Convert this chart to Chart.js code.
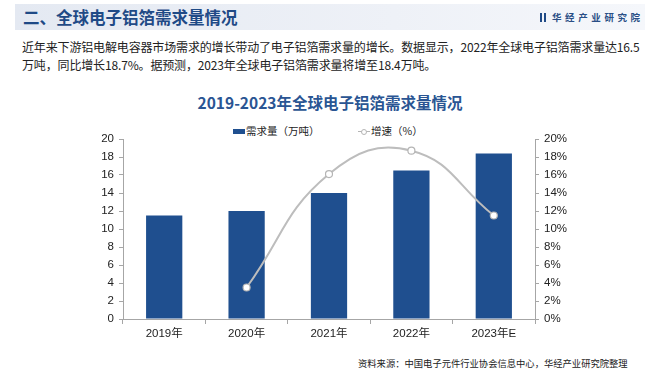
<!DOCTYPE html>
<html>
<head>
<meta charset="utf-8">
<script src="https://cdn.jsdelivr.net/npm/chart.js@4"></script>
<style>
  html, body { margin:0; padding:0; background:#fff; }
  body { width:660px; height:375px; position:relative; overflow:hidden;
         font-family:"Liberation Sans","Noto Sans CJK SC",sans-serif; }
  .hdr { position:absolute; left:15px; top:4px; width:630px; height:26px;
         background:linear-gradient(90deg,#e4e9f2 0%,#eef1f7 60%,#f5f7fb 100%); }
  .hdr-title { position:absolute; left:23px; top:5px; font-family:"Noto Sans CJK SC"; font-weight:bold;
         font-size:16.5px; line-height:24px; color:#1f4a86; }
  .logo { position:absolute; left:540px; top:10px; font-family:"Noto Sans CJK SC"; font-weight:bold;
         font-size:9.5px; line-height:14px; color:#2a4f86; letter-spacing:3.6px; }
  .logo i { display:inline-block; width:6px; height:9px; border-left:2.5px solid #1f4a86; border-right:2.5px solid #1f4a86;
         box-sizing:border-box; margin-right:6px; vertical-align:-1px; }
  .para { position:absolute; left:22px; top:38px; width:630px; font-family:"Noto Sans CJK SC";
         font-size:12px; line-height:18px; color:#222; letter-spacing:-0.15px; }
  .ctitle { position:absolute; left:0; width:660px; top:91px; text-align:center; font-family:"Noto Sans CJK SC";
         font-weight:bold; font-size:15.5px; line-height:22px; color:#2a5593; }
  .legend { position:absolute; top:123px; left:0; width:660px; height:16px; font-size:10.5px; color:#222;
         font-family:"Noto Sans CJK SC"; }
  .lg1 { position:absolute; left:233px; top:0; line-height:16px; }
  .lg1 b { display:inline-block; width:12px; height:5px; background:#1f4f8f; vertical-align:1px; margin-right:1px; }
  .lg2 { position:absolute; left:358px; top:0; line-height:16px; }
  .lg2 b { display:inline-block; position:relative; width:12px; height:1px; background:#b5b5b5; vertical-align:3px; margin-right:1px; }
  .lg2 b::after { content:""; position:absolute; left:3px; top:-2.5px; width:4px; height:4px; border-radius:50%;
         background:#fff; border:1px solid #b5b5b5; }
  .src { position:absolute; left:358px; top:356px; font-family:"Noto Sans CJK SC"; font-size:9.3px; line-height:14px; color:#222; }
  #wrap { position:absolute; left:0; top:120px; width:660px; height:225px; }
</style>
</head>
<body>
<div class="hdr"></div>
<div class="hdr-title">二、全球电子铝箔需求量情况</div>
<div class="logo"><i></i>华经产业研究院</div>
<div class="para">近年来下游铝电解电容器市场需求的增长带动了电子铝箔需求量的增长。数据显示，2022年全球电子铝箔需求量达16.5<br>万吨，同比增长18.7%。据预测，2023年全球电子铝箔需求量将增至18.4万吨。</div>
<div class="ctitle">2019-2023年全球电子铝箔需求量情况</div>
<div class="legend">
  <span class="lg1"><b></b>需求量（万吨）</span>
  <span class="lg2"><b></b>增速（%）</span>
</div>
<div id="wrap"><canvas id="c" width="660" height="225"></canvas></div>
<div class="src">资料来源：中国电子元件行业协会信息中心，华经产业研究院整理</div>
<script>
const categories = ["2019年", "2020年", "2021年", "2022年", "2023年E"];
const demand = [11.5, 12.0, 14.0, 16.5, 18.4];
const growth = [null, 3.5, 16.1, 18.7, 11.5];
const leftTicks = [0, 2, 4, 6, 8, 10, 12, 14, 16, 18, 20];
const rightTicks = [0, 2, 4, 6, 8, 10, 12, 14, 16, 18, 20];

const tickFont = { family: "'Liberation Sans','Noto Sans CJK SC',sans-serif", size: 11.5 };
const axisGray = "#a6a6a6";

new Chart(document.getElementById("c"), {
  data: {
    labels: categories,
    datasets: [
      {
        type: "line", label: "增速（%）", data: growth, yAxisID: "y2",
        borderColor: "#bdbdbd", borderWidth: 2, tension: 0.45,
        pointRadius: 3.5, pointBackgroundColor: "#fff", pointBorderColor: "#b5b5b5", pointBorderWidth: 1.2,
        order: 0
      },
      {
        type: "bar", label: "需求量（万吨）", data: demand, yAxisID: "y",
        backgroundColor: "#1f4f8f", categoryPercentage: 1, barPercentage: 0.44,
        order: 1
      }
    ]
  },
  options: {
    responsive: false, animation: false,
    layout: { padding: { top: 19, bottom: 0, left: 0, right: 0 } },
    plugins: { legend: { display: false }, tooltip: { enabled: false } },
    scales: {
      x: {
        grid: { display: true, drawOnChartArea: false, drawTicks: true, tickLength: 5, color: axisGray, offset: true },
        border: { display: true, color: axisGray },
        ticks: { color: "#222", font: tickFont, padding: 3 },
        afterFit: s => { s.height = 26; }
      },
      y: {
        position: "left", min: 0, max: 20,
        afterBuildTicks: s => { s.ticks = leftTicks.map(v => ({ value: v })); },
        grid: { display: true, drawOnChartArea: false, drawTicks: true, tickLength: 4, color: axisGray },
        border: { display: true, color: axisGray },
        ticks: { color: "#222", font: tickFont, padding: 5 },
        afterFit: s => { s.width = 123; }
      },
      y2: {
        position: "right", min: 0, max: 20,
        afterBuildTicks: s => { s.ticks = rightTicks.map(v => ({ value: v })); },
        grid: { display: true, drawOnChartArea: false, drawTicks: true, tickLength: 4, color: axisGray },
        border: { display: true, color: axisGray },
        ticks: { color: "#222", font: tickFont, padding: 5, callback: v => v + "%" },
        afterFit: s => { s.width = 125; }
      }
    }
  }
});
</script>
</body>
</html>
